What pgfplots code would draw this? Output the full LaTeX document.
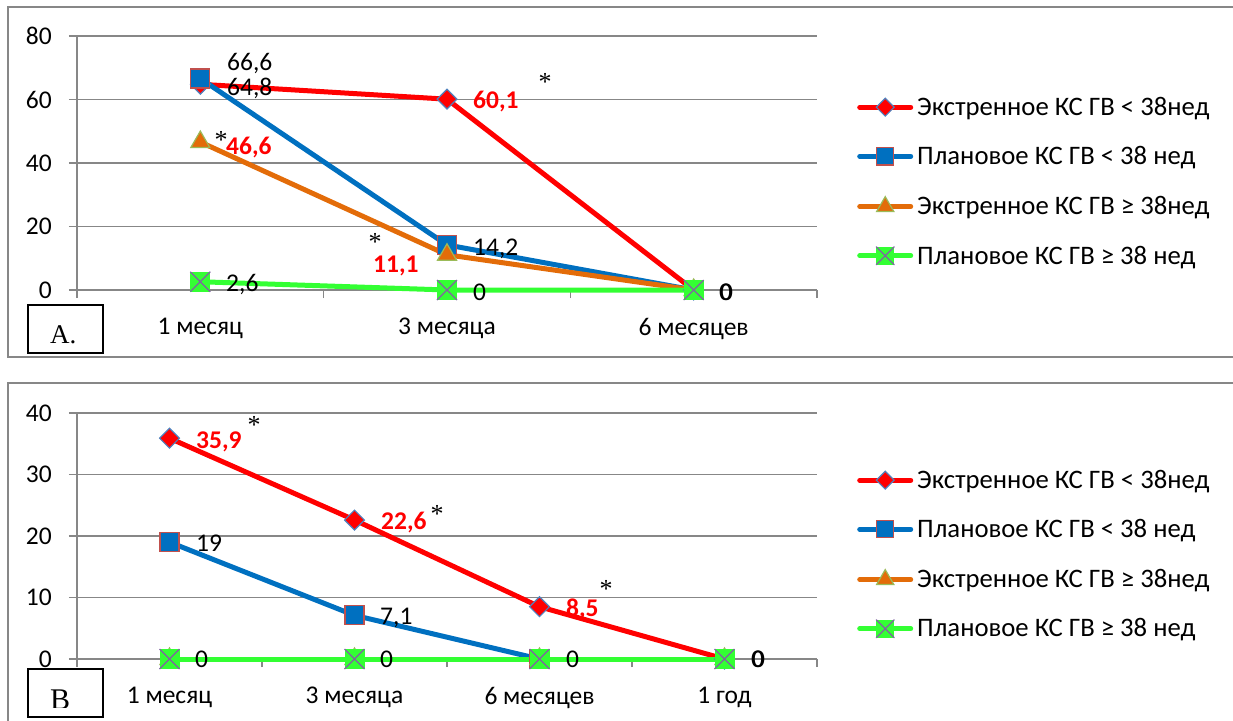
\documentclass[border=0pt]{standalone}
\usepackage{pgfplots}
\pgfplotsset{compat=1.18}
\usepackage{fontspec}
\setmainfont{Carlito}
\newfontfamily\serif{Liberation Serif}

\definecolor{cRed}{HTML}{FF0000}
\definecolor{cBlue}{HTML}{0070C0}
\definecolor{cOrange}{HTML}{E36C09}
\definecolor{cGreen}{HTML}{33FF33}
\definecolor{bdBlue}{HTML}{4F81BD}
\definecolor{bdRed}{HTML}{C0504D}
\definecolor{bdGreen}{HTML}{9BBB59}
\definecolor{bdPurple}{HTML}{8064A2}
\definecolor{gridgray}{HTML}{878787}

% filled square with a diagonal cross
\pgfdeclareplotmark{boxx}{%
  \pgfpathrectangle{\pgfqpoint{-\pgfplotmarksize}{-\pgfplotmarksize}}{\pgfqpoint{2\pgfplotmarksize}{2\pgfplotmarksize}}%
  \pgfusepathqfill
  \pgfpathmoveto{\pgfqpoint{-\pgfplotmarksize}{-\pgfplotmarksize}}%
  \pgfpathlineto{\pgfqpoint{\pgfplotmarksize}{\pgfplotmarksize}}%
  \pgfpathmoveto{\pgfqpoint{-\pgfplotmarksize}{\pgfplotmarksize}}%
  \pgfpathlineto{\pgfqpoint{\pgfplotmarksize}{-\pgfplotmarksize}}%
  \pgfusepathqstroke
}

\newcommand\fs{\fontsize{25.5}{30}\selectfont}
\newcommand\lfs{\fontsize{26.7}{30}\selectfont}

\pgfplotsset{
  panel/.style={
    scale only axis, width=740pt, clip=false,
    anchor=origin, at={(0pt,0pt)},
    axis lines*=left,
    axis line style={gridgray, line width=1.5pt},
    ymajorgrids, grid style={gridgray, line width=1.5pt},
    tick align=outside, major tick length=8pt,
    every tick/.style={gridgray, line width=1.5pt},
    xticklabels={},
    extra x tick style={major tick length=0pt, grid=none,
      xticklabel style={anchor=north, inner sep=0pt, yshift=-28pt}},
    ticklabel style={font=\fs},
    yticklabel style={anchor=east, inner sep=0pt, xshift=-17pt},
    /pgf/number format/assume math mode=true,
    legend cell align=left,
    legend image code/.code={
      \draw[mark repeat=2, mark phase=2, #1, line cap=round,
            every mark/.append style={scale=0.9}]
        plot coordinates {(0pt,0pt) (25.5pt,0pt) (51pt,0pt)};},
    legend style={draw=none, fill=none, inner sep=0pt, font=\lfs,
      row sep=31.5pt, column sep=4pt,
      nodes={inner sep=0pt, text height=17pt, text depth=0.5pt}},
  },
  sRed/.style={cRed, line width=5pt, mark=square*, mark size=7pt,
    mark options={rotate=45, fill=cRed, draw=bdBlue, line width=1.2pt}},
  sBlue/.style={cBlue, line width=5pt, mark=square*, mark size=9.5pt,
    mark options={fill=cBlue, draw=bdRed, line width=1.2pt}},
  sOrange/.style={cOrange, line width=5pt, mark=triangle*, mark size=11pt,
    mark options={fill=cOrange, draw=bdGreen, line width=1.2pt}},
  sGreen/.style={cGreen, line width=5pt, mark=boxx, mark size=10pt,
    mark options={fill=cGreen, draw=bdPurple, line width=1.2pt}},
}

\tikzset{
  val/.style={anchor=west, inner sep=0pt, text height=16pt, text depth=0pt, font=\fs},
  redval/.style={val, text=cRed, font=\fs\bfseries},
  star/.style={anchor=base, inner sep=0pt, font=\serif\fontsize{26}{30}\selectfont},
}

\begin{document}
\begin{tikzpicture}[x=1pt, y=1pt]
\useasboundingbox (0,0) rectangle (1233,-720);

% panel frames
\draw[gridgray, line width=1.5pt] (8,-7) rectangle (1240,-357);
\draw[gridgray, line width=1.5pt] (8,-383) rectangle (1240,-740);

% ---------- panel A: the first category sits half a slot right of the y axis ----------
\begin{scope}[shift={(200.33pt,-290pt)}]
\begin{axis}[panel, height=254pt,
  xmin=-0.5, xmax=2.5, ymin=0, ymax=80, ytick={0,20,40,60,80},
  xtick={-0.5,0.5,1.5,2.5},
  extra x ticks={0,1,2},
  extra x tick labels={1 месяц,3 месяца,6 месяцев},
  legend style={at={(1.0541,0.427)}, anchor=west}]
\addplot[sRed] coordinates {(0,64.8) (1,60.1) (2,0)};
\addlegendentry{Экстренное КС ГВ < 38нед}
\addplot[sBlue] coordinates {(0,66.6) (1,14.2) (2,0)};
\addlegendentry{Плановое КС ГВ < 38 нед}
\addplot[sOrange] coordinates {(0,46.6) (1,11.1) (2,0)};
\addlegendentry{Экстренное КС ГВ ≥ 38нед}
\addplot[sGreen] coordinates {(0,2.6) (1,0) (2,0)};
\addlegendentry{Плановое КС ГВ ≥ 38 нед}
\end{axis}
\end{scope}

% value labels, panel A
\node[val] at (227,-62) {66,6};
\node[val] at (227,-87) {64,8};
\node[redval] at (473,-100) {60,1};
\node[redval] at (226,-146) {46,6};
\node[redval] at (373,-264) {11,1};
\node[val] at (473,-247) {14,2};
\node[val] at (226,-283) {2,6};
\node[val] at (473,-292) {0};
\node[val] at (719,-292) {0};
\node[val] at (719.8,-292) {0};
\node[star] at (545,-90) {*};
\node[star] at (221,-148) {*};
\node[star] at (375,-250) {*};

\draw[black, line width=1.5pt] (28,-305) rectangle (103,-353);
\node[anchor=base west, inner sep=0pt, font=\serif\fontsize{27}{30}\selectfont] at (50,-343) {А.};

% ---------- panel B ----------
\begin{scope}[shift={(169.5pt,-659pt)}]
\begin{axis}[panel, height=246pt,
  xmin=-0.5, xmax=3.5, ymin=0, ymax=40, ytick={0,10,20,30,40},
  xtick={-0.5,0.5,1.5,2.5,3.5},
  extra x ticks={0,1,2,3},
  extra x tick labels={1 месяц,3 месяца,6 месяцев,1 год},
  legend style={at={(1.0541,0.4248)}, anchor=west}]
\addplot[sRed] coordinates {(0,35.9) (1,22.6) (2,8.5) (3,0)};
\addlegendentry{Экстренное КС ГВ < 38нед}
\addplot[sBlue] coordinates {(0,19) (1,7.1) (2,0)};
\addlegendentry{Плановое КС ГВ < 38 нед}
\addplot[sOrange] coordinates {(0,0) (1,0) (2,0) (3,0)};
\addlegendentry{Экстренное КС ГВ ≥ 38нед}
\addplot[sGreen] coordinates {(0,0) (1,0) (2,0) (3,0)};
\addlegendentry{Плановое КС ГВ ≥ 38 нед}
\end{axis}
\end{scope}

% value labels, panel B
\node[redval] at (196,-440) {35,9};
\node[redval] at (381,-521) {22,6};
\node[redval] at (566,-608) {8,5};
\node[val] at (196,-543) {19};
\node[val] at (380,-616) {7,1};
\node[val] at (195,-659) {0};
\node[val] at (380,-659) {0};
\node[val] at (566,-659) {0};
\node[val] at (751,-659) {0};
\node[val] at (751.8,-659) {0};
\node[star] at (254,-433) {*};
\node[star] at (437,-522) {*};
\node[star] at (606,-597) {*};

\draw[black, line width=1.5pt] (28,-669) rectangle (103,-717);
\begin{scope}
  \clip (28,-669) rectangle (103,-707);
  \node[anchor=base west, inner sep=0pt, font=\serif\fontsize{30}{34}\selectfont] at (50,-709) {В};
\end{scope}
\end{tikzpicture}
\end{document}
